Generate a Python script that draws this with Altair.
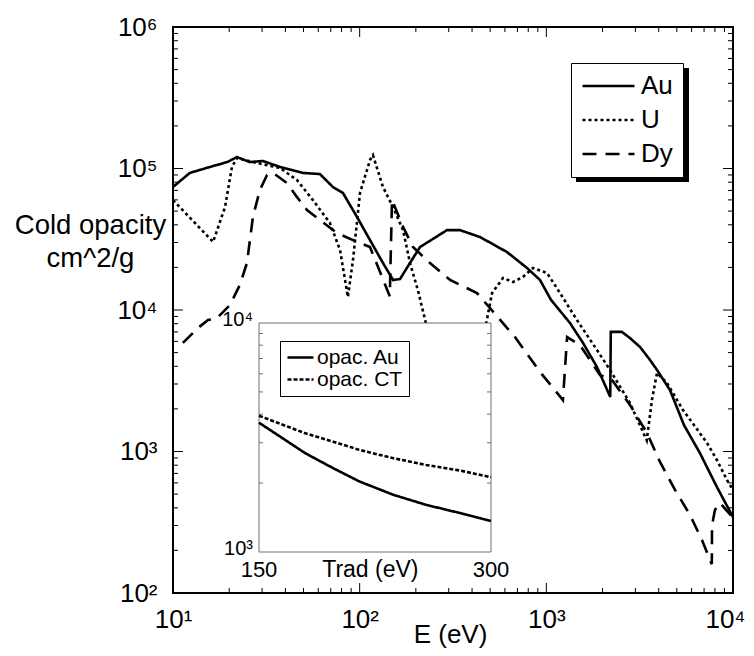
import altair as alt
import pandas as pd

FONT = "Liberation Sans"
W, H = 560, 566

# ---------------- main chart data (E in eV, cold opacity in cm^2/g) ----------------
au_E = [10, 12.3, 15.8, 19.5, 22.0, 25.8, 30.3, 37.4, 49.7, 61.2, 71.9, 81.4, 96.8, 113.6, 133.3,
        151, 164.5, 186, 210.5, 293.7, 344, 441, 615, 788, 925, 1060, 1339, 1572, 1868, 2200,
        2215, 2540, 2805, 3175, 3590, 3915, 4595, 5460, 6650, 8200, 10000]
au_k = [74000, 93000, 102600, 111000, 120500, 111000, 113000, 102600, 93000, 91400, 74000, 67100,
        45400, 31200, 21500, 16300, 16550, 21500, 27860, 36700, 36700, 32800, 25700, 19800, 16300,
        11780, 8090, 5850, 3955, 2430, 7000, 7000, 6340, 5480, 4440, 3770, 2720, 1539, 975, 561, 344]

u_E = [10, 16.4, 19.0, 20.7, 22.0, 28.2, 37.4, 46.1, 56.2, 69.3, 78.5, 86.5, 92.1, 100.4, 113.6,
       117.8, 133.3, 151, 170.8, 186, 205, 238, 344, 469, 512, 586, 663, 749, 849, 1009, 1184,
       1459, 1868, 2193, 2805, 3450, 3680, 3915, 4430, 5395, 6180, 7260, 8200, 9280, 10000]
u_k = [59800, 30300, 53400, 102600, 118500, 109400, 100900, 83000, 59800, 41200, 26500, 12360,
       22540, 67100, 114800, 124400, 74000, 53400, 36700, 21500, 13840, 6140, 5210, 7230, 13180,
       16830, 15780, 17100, 19800, 18240, 13180, 8490, 5210, 3770, 2200, 1200, 2310, 3590, 3050,
       1963, 1539, 1148, 871, 629, 535]

dy_E = [11.3, 13.6, 15.4, 17.2, 20.2, 22.8, 24.9, 26.8, 29.2, 31.9, 34.4, 40.8, 46.1, 52.2, 61.2,
        75.6, 92.1, 113.6, 145, 149, 171, 193, 238, 305, 425, 679, 925, 1227, 1292, 1514, 1936,
        2250, 2805, 3460, 4063, 4890, 5885, 6820, 7530, 7700, 7720, 8000, 8510, 10000]
dy_k = [5850, 7460, 8490, 8770, 10840, 15030, 21500, 45400, 70500, 90000, 93000, 79000, 63000,
        50900, 43200, 35000, 31200, 27860, 12500, 60000, 38600, 27860, 21500, 16300, 13180, 6440,
        3650, 2310, 6440, 5660, 3475, 3200, 2135, 1352, 844, 535, 356, 237, 171, 160, 300, 386,
        433, 340]

main_names = ["Au", "U", "Dy"]
main_dash = [[1, 0], [3, 3], [14, 9]]

# ---------------- inset data (opacity vs Trad) ----------------
inset_T = [150, 180, 198, 215, 237, 258, 280, 300]
inset_au = [3670, 2698, 2322, 2031, 1776, 1607, 1479, 1365]
inset_ct = [3936, 3297, 3033, 2790, 2566, 2400, 2268, 2121]
inset_names = ["opac. Au", "opac. CT"]
inset_dash = [[1, 0], [4, 2]]
inset_x_domain = [150, 300]
inset_y_domain = [1000, 10000]
inset_y_minor = [2000, 3000, 4000, 5000, 6000, 7000, 8000, 9000]
inset_x_labels = ["150", "300"]
inset_y_labels = ["10³", "10⁴"]

# ---------------- axis tick values ----------------
x_major = [10, 100, 1000, 10000]
x_minor = [m * 10 ** d for d in (1, 2, 3) for m in range(2, 10)]
y_major = [100, 1000, 10000, 100000, 1000000]
y_minor = [m * 10 ** d for d in (2, 3, 4, 5) for m in range(2, 10)]

rows = []
for name, E, k in [("Au", au_E, au_k), ("U", u_E, u_k), ("Dy", dy_E, dy_k)]:
    for i, (e, v) in enumerate(zip(E, k)):
        rows.append({"E": e, "k": v, "series": name, "i": i})
main_df = pd.DataFrame(rows)

irows = []
for name, vals in [("opac. Au", inset_au), ("opac. CT", inset_ct)]:
    for i, (t, v) in enumerate(zip(inset_T, vals)):
        irows.append({"T": t, "k": v, "series": name, "i": i})
inset_df = pd.DataFrame(irows)

x_main = alt.Scale(type="log", domain=[10, 10000])
y_main = alt.Scale(type="log", domain=[100, 1000000])
SUP = "['⁰','¹','²','³','⁴','⁵','⁶']"
lab = "'10' + " + SUP + "[round(log(datum.value) / LN10)]"

common_axis = dict(labelExpr=lab, labelFont=FONT, labelFontSize=26, labelColor="black",
                   labelFlush=False, labelOverlap=False, ticks=False, domain=False, grid=False,
                   titleFont=FONT, titleFontWeight="normal", titleColor="black")
xax = alt.Axis(values=x_major, labelPadding=13, title="E (eV)", titleFontSize=26, titleX=277,
               titleY=49, titleBaseline="alphabetic", titleAlign="center",
               labelOffset={"condition": {"test": "datum.value >= 10000", "value": -8}, "value": 0},
               **common_axis)
yax = alt.Axis(values=y_major, labelPadding=16, title=["Cold opacity", "cm^2/g"], titleAngle=0,
               titleFontSize=27.5, titleX=-83, titleY=198, titleAlign="center",
               titleBaseline="middle", titleLineHeight=33, **common_axis)

main_legend = alt.Legend(title=None, orient="none", legendX=398, legendY=36, direction="vertical",
                         fillColor="white", strokeColor="black", padding=10, symbolType="stroke",
                         symbolSize=2704, symbolStrokeWidth=2.6, symbolStrokeColor="black",
                         labelFont=FONT, labelFontSize=26, labelColor="black", labelOffset=5,
                         rowPadding=8, clipHeight=26)

lines = alt.Chart(main_df).mark_line(color="black", strokeWidth=2.6, clip=True).encode(
    x=alt.X("E:Q", scale=x_main, axis=xax),
    y=alt.Y("k:Q", scale=y_main, axis=yax),
    strokeDash=alt.StrokeDash("series:N", scale=alt.Scale(domain=main_names, range=main_dash),
                              legend=main_legend),
    order="i:Q",
)


def tick_layer(vals, length, side):
    df = pd.DataFrame({"v": vals})
    base = alt.Chart(df).mark_rule(color="black", strokeWidth=1)
    if side == "bottom":
        enc = dict(x=alt.X("v:Q", scale=x_main, axis=xax), y=alt.value(H), y2=alt.value(H - length))
    elif side == "top":
        enc = dict(x=alt.X("v:Q", scale=x_main, axis=xax), y=alt.value(0), y2=alt.value(length))
    elif side == "left":
        enc = dict(y=alt.Y("v:Q", scale=y_main, axis=yax), x=alt.value(0), x2=alt.value(length))
    else:
        enc = dict(y=alt.Y("v:Q", scale=y_main, axis=yax), x=alt.value(W), x2=alt.value(W - length))
    return base.encode(**enc)


ticks = []
for side in ["bottom", "top"]:
    ticks.append(tick_layer(x_major, 10, side))
    ticks.append(tick_layer(x_minor, 5, side))
for side in ["left", "right"]:
    ticks.append(tick_layer(y_major, 10, side))
    ticks.append(tick_layer(y_minor, 5, side))

shadow = alt.Chart(pd.DataFrame({"a": [0]})).mark_rect(color="black").encode(
    x=alt.value(403), x2=alt.value(516), y=alt.value(41), y2=alt.value(155))

main = alt.layer(shadow, lines, *ticks)

# ---------------- inset ----------------
ix = alt.Scale(domain=inset_x_domain, range=[86, 318])
iy = alt.Scale(type="log", domain=inset_y_domain, range=[525, 296])

frame = alt.Chart(pd.DataFrame({"x0": [inset_x_domain[0]], "x1": [inset_x_domain[1]],
                                "y0": [inset_y_domain[0]], "y1": [inset_y_domain[1]]})).mark_rect(
    fill="white", stroke="#707070", strokeWidth=1).encode(
    x=alt.X("x0:Q", scale=ix, axis=None), x2="x1:Q",
    y=alt.Y("y0:Q", scale=iy, axis=None), y2="y1:Q")

itick_df = pd.DataFrame({"y": inset_y_minor})
itl = alt.Chart(itick_df).mark_rule(color="#707070").encode(
    y=alt.Y("y:Q", scale=iy, axis=None),
    x=alt.X("a:Q", scale=ix, axis=None), x2="b:Q").transform_calculate(a="150", b="152.6")
itr = alt.Chart(itick_df).mark_rule(color="#707070").encode(
    y=alt.Y("y:Q", scale=iy, axis=None),
    x=alt.X("a:Q", scale=ix, axis=None), x2="b:Q").transform_calculate(a="297.4", b="300")

inset_legend = alt.Legend(title=None, orient="none", legendX=107, legendY=314, fillColor="white",
                          strokeColor="black", padding=6, symbolType="stroke", symbolSize=676,
                          symbolStrokeWidth=2.4, symbolStrokeColor="black", labelFont=FONT,
                          labelFontSize=21, labelColor="black", labelOffset=2, rowPadding=0,
                          clipHeight=21)

ilines = alt.Chart(inset_df).mark_line(color="black", strokeWidth=2.6).encode(
    x=alt.X("T:Q", scale=ix, axis=None),
    y=alt.Y("k:Q", scale=iy, axis=None),
    strokeDash=alt.StrokeDash("series:N", scale=alt.Scale(domain=inset_names, range=inset_dash),
                              legend=inset_legend),
    order="i:Q",
)

ylab = alt.Chart(pd.DataFrame({"x": [inset_x_domain[0]] * 2, "y": inset_y_domain,
                               "t": inset_y_labels})).mark_text(
    font=FONT, fontSize=20, align="right", baseline="alphabetic", dx=-6, dy=3, color="black").encode(
    x=alt.X("x:Q", scale=ix, axis=None), y=alt.Y("y:Q", scale=iy, axis=None), text="t:N")

xlab = alt.Chart(pd.DataFrame({"x": inset_x_domain, "y": [inset_y_domain[0]] * 2,
                               "t": inset_x_labels})).mark_text(
    font=FONT, fontSize=22, align="center", baseline="alphabetic", dy=25, color="black").encode(
    x=alt.X("x:Q", scale=ix, axis=None), y=alt.Y("y:Q", scale=iy, axis=None), text="t:N")

xtitle = alt.Chart(pd.DataFrame({"x": [222], "y": [inset_y_domain[0]], "t": ["Trad (eV)"]})).mark_text(
    font=FONT, fontSize=23, align="center", baseline="alphabetic", dy=25, color="black").encode(
    x=alt.X("x:Q", scale=ix, axis=None), y=alt.Y("y:Q", scale=iy, axis=None), text="t:N")

inset = alt.layer(frame, itl, itr, ilines, ylab, xlab, xtitle)

chart = alt.layer(main, inset).resolve_scale(
    x="independent", y="independent", strokeDash="independent"
).properties(
    width=W, height=H, autosize="none",
    padding={"left": 165, "top": 19, "right": 13, "bottom": 55},
).configure_view(stroke="black", strokeWidth=2)

chart.save("out.html", embed_options={"renderer": "svg", "actions": False})
